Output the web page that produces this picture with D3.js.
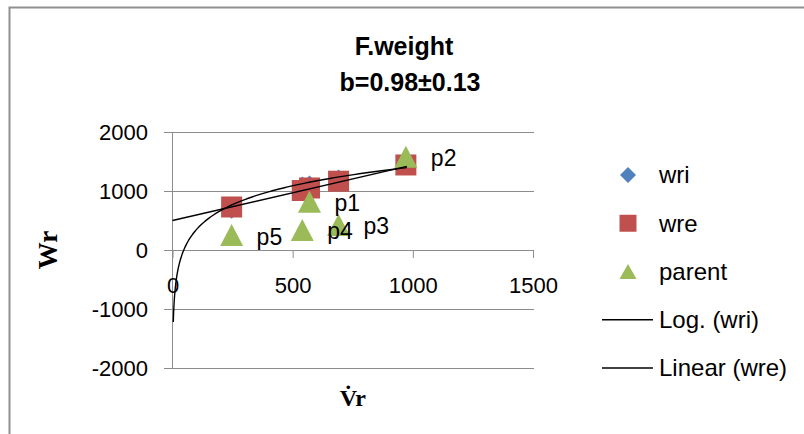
<!DOCTYPE html>
<meta charset="utf-8">
<style>
body{ margin:0; background:#fff }
text{ font-family:"Liberation Sans", Arial, sans-serif; fill:#000 }
.grid line{ stroke:#8c8c8c; stroke-width:1 }
.trend{ fill:none; stroke:#000; stroke-width:1.4 }
</style>
<body>
<script src="https://d3js.org/d3.v7.min.js"></script>
<script>

var width = 804,
    height = 434;

// family order p5, p4, p1, p3, p2
var labels = ["p5", "p4", "p1", "p3", "p2"];
var vr     = [246, 540, 570, 691, 971];
var wri    = [640, 1136, 1153, 1254, 1390];
var wre    = [729, 1008, 1051, 1166, 1441];
var parent = [254, 339, 819, 424, 1581];

var xTicks = [0, 500, 1000, 1500];
var yTicks = [-2000, -1000, 0, 1000, 2000];

// trendlines
var logA = 460, logB = -1770, logFrom = 3.3, logTo = 975;
var linA = 500, linB = 0.94, linFrom = 0, linTo = 975;

var legendNames = ["wri", "wre", "parent", "Log. (wri)", "Linear (wre)"];

var blue = "#4f81bd", red = "#c0504d", green = "#9bbb59";

var svg = d3.select("body").append("svg")
    .attr("width", width)
    .attr("height", height);

// outer chart border (only top and left visible)
svg.append("path")
    .attr("d", "M9.5," + height + "V7.5H" + width)
    .attr("fill", "none")
    .attr("stroke", "#8f8f8f")
    .attr("stroke-width", 2);

var x = d3.scaleLinear().domain([0, 1500]).range([172.5, 533]);
var y = d3.scaleLinear().domain([-2000, 2000]).range([368, 132]);

// horizontal gridlines + y labels
var gy = svg.append("g")
    .attr("class", "grid")
    .attr("transform", "translate(164,0)")
    .call(d3.axisLeft(y).tickValues(yTicks).tickFormat(d => String(d))
        .tickSize(-(534 - 164)).tickPadding(16));
gy.select(".domain").remove();
gy.selectAll("text").style("font-size", "22px").attr("fill", "#000");

// vertical axis line
svg.append("line")
    .attr("x1", x(0)).attr("x2", x(0))
    .attr("y1", y(2000)).attr("y2", y(-2000))
    .attr("stroke", "#8c8c8c");

// x axis on y=0
var gx = svg.append("g")
    .attr("class", "grid")
    .attr("transform", "translate(0," + y(0) + ")")
    .call(d3.axisBottom(x).tickValues(xTicks).tickFormat(d => String(d))
        .tickSize(8).tickPadding(19));
gx.select(".domain").remove();
gx.selectAll("text").style("font-size", "22px").attr("fill", "#000");

function diamond(s) {
    var h = s / 2;
    return "M0," + (-h) + "L" + h + ",0L0," + h + "L" + (-h) + ",0Z";
}
function square(s) {
    var h = s / 2;
    return "M" + (-h) + "," + (-h) + "H" + h + "V" + h + "H" + (-h) + "Z";
}
function triangle(w, t) {
    return "M0," + (-t / 2) + "L" + (w / 2) + "," + (t / 2) + "L" + (-w / 2) + "," + (t / 2) + "Z";
}

var pts = vr.map(function(v, i) {
    return { x: v, wri: wri[i], wre: wre[i], parent: parent[i], label: labels[i] };
});

svg.selectAll(".wri").data(pts).enter().append("path")
    .attr("class", "wri")
    .attr("d", diamond(13))
    .attr("fill", blue)
    .attr("transform", d => "translate(" + x(d.x) + "," + y(d.wri) + ")");

svg.selectAll(".wre").data(pts).enter().append("path")
    .attr("class", "wre")
    .attr("d", square(21))
    .attr("fill", red)
    .attr("transform", d => "translate(" + x(d.x) + "," + y(d.wre) + ")");

svg.selectAll(".parent").data(pts).enter().append("path")
    .attr("class", "parent")
    .attr("d", triangle(23, 22))
    .attr("fill", green)
    .attr("transform", d => "translate(" + x(d.x) + "," + y(d.parent) + ")");

// trendlines
var logPts = d3.range(0, 201).map(function(k) {
    var t = logFrom * Math.pow(logTo / logFrom, k / 200);
    return [t, logA * Math.log(t) + logB];
});
svg.append("path")
    .attr("class", "trend")
    .attr("d", d3.line().x(d => x(d[0])).y(d => y(d[1]))(logPts));

svg.append("path")
    .attr("class", "trend")
    .attr("d", d3.line().x(d => x(d[0])).y(d => y(d[1]))(
        [[linFrom, linA + linB * linFrom], [linTo, linA + linB * linTo]]));

// data labels
svg.selectAll(".plabel").data(pts).enter().append("text")
    .attr("class", "plabel")
    .attr("x", d => x(d.x) + 25)
    .attr("y", d => y(d.parent) + 9.5)
    .style("font-size", "23px")
    .text(d => d.label);

// titles
svg.append("text")
    .attr("x", 404).attr("y", 55)
    .attr("text-anchor", "middle")
    .style("font-size", "25px").style("font-weight", "bold")
    .text("F.weight");
svg.append("text")
    .attr("x", 410).attr("y", 91)
    .attr("text-anchor", "middle")
    .style("font-size", "25px").style("font-weight", "bold")
    .text("b=0.98\u00b10.13");

svg.append("text")
    .attr("transform", "translate(57," + y(0) + ") rotate(-90)")
    .attr("text-anchor", "middle")
    .style("font-family", "'Liberation Serif', 'Times New Roman', serif")
    .style("font-size", "27px").style("font-weight", "bold")
    .text("Wr");

svg.append("text")
    .attr("x", (x(0) + x(1500)) / 2).attr("y", 406)
    .attr("text-anchor", "middle")
    .style("font-family", "'Liberation Serif', 'Times New Roman', serif")
    .style("font-size", "24px").style("font-weight", "bold")
    .text("V\u0307r");

// legend
var lg = svg.append("g").attr("transform", "translate(628,0)");
var rowY = d3.scalePoint().domain(legendNames).range([175, 368]);
var legendMarks = [
    function(g) { g.append("path").attr("d", diamond(16)).attr("fill", blue); },
    function(g) { g.append("path").attr("d", square(17)).attr("fill", red); },
    function(g) { g.append("path").attr("d", triangle(17, 15)).attr("fill", green); },
    function(g) { g.append("line").attr("x1", -26).attr("x2", 25).attr("stroke", "#000").attr("stroke-width", 1.4); },
    function(g) { g.append("line").attr("x1", -26).attr("x2", 25).attr("stroke", "#000").attr("stroke-width", 1.4); }
];
legendNames.forEach(function(n, i) {
    var g = lg.append("g").attr("transform", "translate(0," + rowY(n) + ")");
    legendMarks[i](g);
    g.append("text")
        .attr("x", 31).attr("dy", "0.35em")
        .style("font-size", "24px")
        .text(n);
});

</script>
